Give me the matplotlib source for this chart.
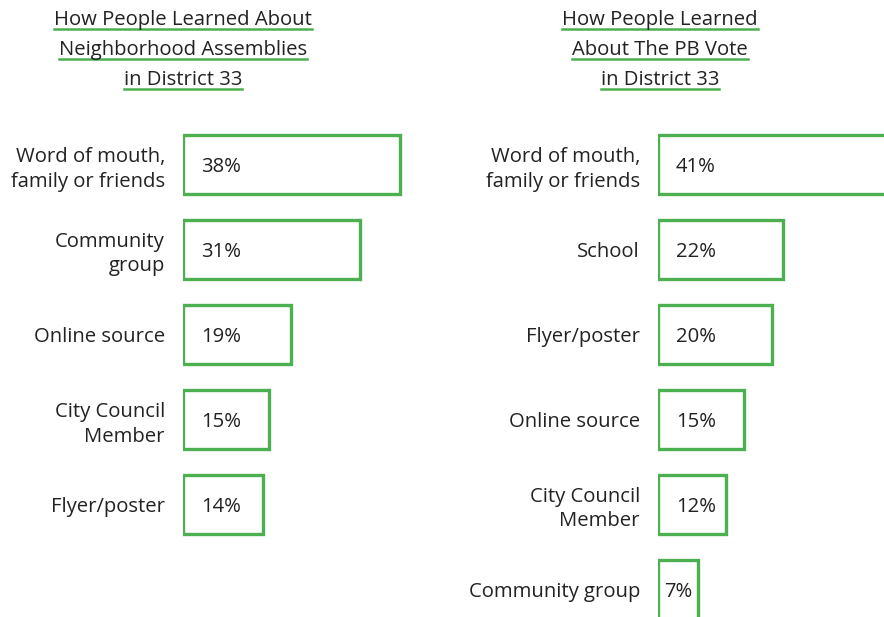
import matplotlib.pyplot as plt
from matplotlib.lines import Line2D

# data
left_title = ["How People Learned About", "Neighborhood Assemblies", "in District 33"]
left_cats = ["Word of mouth,\nfamily or friends", "Community\ngroup", "Online source",
             "City Council\nMember", "Flyer/poster"]
left_vals = [38, 31, 19, 15, 14]

right_title = ["How People Learned", "About The PB Vote", "in District 33"]
right_cats = ["Word of mouth,\nfamily or friends", "School", "Flyer/poster",
              "Online source", "City Council\nMember", "Community group"]
right_vals = [41, 22, 20, 15, 12, 7]

GREEN = "#4caf50"
TXT = "#222222"
plt.rcParams['font.family'] = ['Open Sans', 'DejaVu Sans']
FS = 14.6

W, H = 884, 617
fig = plt.figure(figsize=(W / 100, H / 100), dpi=100)
fig.patch.set_facecolor("white")

PX_PER_PCT = 5.7
SLOT = 85.0
BAR_H = 59.0 / SLOT


def panel(x0, cats, vals, title, tcx):
    top_px, bot_px = 120, H
    width_px = W - x0
    ax = fig.add_axes([x0 / W, 1 - bot_px / H, width_px / W, (bot_px - top_px) / H])
    ytop = -BAR_H / 2 - 15 / SLOT
    ax.set_ylim(ytop + (bot_px - top_px) / SLOT, ytop)
    ax.set_xlim(0, width_px / PX_PER_PCT)
    ys = list(range(len(vals)))
    ax.barh(ys, vals, height=BAR_H, facecolor="white", edgecolor=GREEN, linewidth=2.4)
    ax.set_yticks(ys)
    ax.set_yticklabels(cats, fontsize=FS, color=TXT, linespacing=1.3)
    ax.tick_params(axis="y", length=0, pad=13)
    ax.set_xticks([])
    for s in ax.spines.values():
        s.set_visible(False)
    ax.patch.set_alpha(0)
    for y, v in zip(ys, vals):
        if v < 10:
            ax.annotate(f"{v}%", xy=(v / 2, y), xytext=(0, -1.5), textcoords="offset points",
                        ha="center", va="center", fontsize=FS, color=TXT)
        else:
            ax.annotate(f"{v}%", xy=(0, y), xytext=(13, -1.5), textcoords="offset points",
                        ha="left", va="center", fontsize=FS, color=TXT)
    # title lines with green underlines
    texts = []
    for i, line in enumerate(title):
        base = 25 + 30 * i
        t = fig.text(tcx / W, 1 - base / H, line, ha="center", va="baseline",
                     fontsize=FS, color=TXT)
        texts.append((t, base))
    return texts


all_titles = panel(183, left_cats, left_vals, left_title, 183)
all_titles += panel(658, right_cats, right_vals, right_title, 660)

fig.canvas.draw()
r = fig.canvas.get_renderer()
for t, base in all_titles:
    bb = t.get_window_extent(r)
    yy = 1 - (base + 4) / H
    fig.add_artist(Line2D([bb.x0 / W, bb.x1 / W], [yy, yy], color=GREEN, lw=1.8,
                          transform=fig.transFigure))

fig.savefig("out.png", dpi=100, facecolor="white")
